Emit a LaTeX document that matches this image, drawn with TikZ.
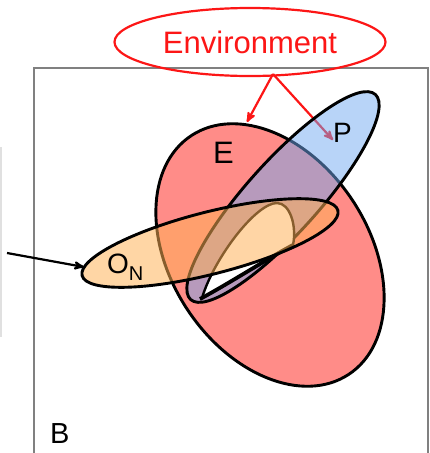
\documentclass[tikz,border=0pt]{standalone}
\usepackage{fontspec}
\setmainfont{Liberation Sans}
\usetikzlibrary{arrows, shapes.geometric}
\definecolor{efill}{RGB}{255,140,136}
\definecolor{pfill}{RGB}{113,169,241}
\definecolor{onfill}{RGB}{255,177,85}
\definecolor{envred}{RGB}{252,22,22}
\definecolor{boxgray}{RGB}{128,128,128}

\begin{document}
\begin{tikzpicture}[x=1pt,y=-1pt,>=stealth',
  blob/.style={ellipse, draw=black, line width=2.9pt, inner sep=0pt, outer sep=0pt},
  tag/.style={anchor=base west, inner sep=0pt}]
\useasboundingbox (0,0) rectangle (430,453);

% the frame B and the edge of the panel on the left
  \draw[black!12, line width=1.5pt] (1,147) -- (1,337);
  \draw[boxgray, line width=2pt] (34,456) -- (34,68) -- (428,68) -- (428,456);

% define the sets
  \node[blob, fill=efill, minimum width=286pt, minimum height=198pt, rotate=-56.6]
    (sysE) at (270,255) {};

  \node[ellipse, draw=envred, line width=2.2pt, text=envred, inner sep=0pt,
    minimum width=271pt, minimum height=68pt, font=\fontsize{31}{31}\selectfont]
    (env) at (250,42) {Environment};
  \coordinate (envfoot) at (273,74);
  \coordinate (tipE) at (247,122);
  \coordinate (tipP) at (333,140);
  \path[->, envred, line width=2.2pt] (envfoot) edge (tipE)
                                                edge (tipP);

  \node[blob, fill=pfill, fill opacity=0.5, draw opacity=1, minimum width=276pt,
    minimum height=72pt, rotate=48] (sysP) at (283,197) {};

% the hole through E and P
  \filldraw[fill=white, draw=black, line width=2.4pt] (202,298)
    .. controls (214,258) and (256,203) .. (277,203)
    .. controls (290,203) and (297,226) .. (293,245)
    .. controls (272,256) and (228,284) .. (202,298) -- cycle;
  \draw[line width=3.8pt] (293,245) .. controls (272,256) and (228,284) .. (200,299);

  \node[blob, fill=onfill, fill opacity=0.53, draw opacity=1, minimum width=264pt,
    minimum height=62pt, rotate=14.3] (sysON) at (210,243) {};
  \coordinate (onfoot) at (7,253);
  \coordinate (tipON) at (84,267);
  \path[->, line width=2.2pt] (onfoot) edge (tipON);

% the labels
  \node[tag, font=\fontsize{31}{31}\selectfont] (labE) at (213,163) {E};
  \node[tag, font=\fontsize{28}{28}\selectfont] (labP) at (333,142) {P};
  \node[tag, font=\fontsize{28}{28}\selectfont] (labON) at (107,273)
    {O\raisebox{-7pt}{\fontsize{20}{20}\selectfont N}};
  \node[tag, font=\fontsize{29}{29}\selectfont] (labB) at (50,443) {B};

\end{tikzpicture}
\end{document}
